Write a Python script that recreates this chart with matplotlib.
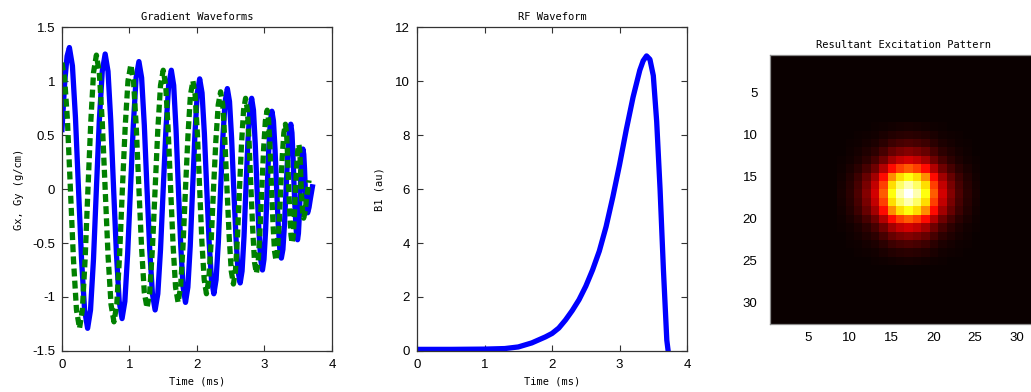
"""Spiral excitation pulse: gradient waveforms, RF waveform and excitation pattern."""

import matplotlib

matplotlib.use("Agg")
import matplotlib.pyplot as plt
import numpy as np

# gradient waveforms (ms, g/cm)
gx_time = [0.0, 0.042, 0.076, 0.11,
           0.155, 0.20, 0.245, 0.29, 0.335, 0.38,
           0.423, 0.467, 0.51, 0.553, 0.597, 0.64,
           0.682, 0.723, 0.765, 0.807, 0.848, 0.89,
           0.932, 0.973, 1.015, 1.057, 1.098, 1.14,
           1.18, 1.22, 1.26, 1.30, 1.34, 1.38,
           1.42, 1.46, 1.50, 1.54, 1.58, 1.62,
           1.655, 1.69, 1.725, 1.76, 1.795, 1.83,
           1.865, 1.90, 1.935, 1.97, 2.005, 2.04,
           2.075, 2.11, 2.145, 2.18, 2.215, 2.25,
           2.283, 2.317, 2.35, 2.383, 2.417, 2.45,
           2.482, 2.513, 2.545, 2.577, 2.608, 2.64,
           2.668, 2.697, 2.725, 2.753, 2.782, 2.81,
           2.837, 2.863, 2.89, 2.917, 2.943, 2.97,
           2.993, 3.017, 3.04, 3.063, 3.087, 3.11,
           3.133, 3.157, 3.18, 3.203, 3.227, 3.25,
           3.273, 3.297, 3.32, 3.343, 3.367, 3.39,
           3.407, 3.423, 3.44, 3.457, 3.473, 3.49,
           3.503, 3.517, 3.53, 3.543, 3.557, 3.57,
           3.582, 3.593, 3.605, 3.617, 3.628, 3.64,
           3.66, 3.68, 3.71]
gx = [0.55, 1.0, 1.23, 1.31,
      1.14, 0.66, 0.0, -0.65, -1.12, -1.29,
      -1.12, -0.65, 0.0, 0.63, 1.09, 1.25,
      1.09, 0.63, 0.0, -0.60, -1.04, -1.20,
      -1.04, -0.60, 0.0, 0.59, 1.03, 1.18,
      1.03, 0.59, 0.0, -0.56, -0.97, -1.12,
      -0.97, -0.56, 0.0, 0.55, 0.96, 1.10,
      0.96, 0.55, 0.0, -0.53, -0.91, -1.05,
      -0.91, -0.53, 0.0, 0.51, 0.89, 1.02,
      0.89, 0.51, 0.0, -0.49, -0.84, -0.97,
      -0.84, -0.49, 0.0, 0.47, 0.81, 0.93,
      0.81, 0.47, 0.0, -0.44, -0.76, -0.87,
      -0.76, -0.44, 0.0, 0.42, 0.73, 0.84,
      0.73, 0.42, 0.0, -0.38, -0.65, -0.75,
      -0.65, -0.38, 0.0, 0.36, 0.63, 0.72,
      0.63, 0.36, 0.0, -0.32, -0.56, -0.64,
      -0.56, -0.32, 0.0, 0.30, 0.52, 0.60,
      0.52, 0.30, 0.0, -0.24, -0.41, -0.47,
      -0.41, -0.24, 0.0, 0.19, 0.32, 0.37,
      0.32, 0.19, 0.0, -0.11, -0.19, -0.22,
      -0.17, -0.09, 0.02]

gy_time = [0.0, 0.04, 0.08, 0.125, 0.17, 0.215, 0.26,
           0.302, 0.343, 0.385, 0.427, 0.468, 0.51,
           0.553, 0.597, 0.64, 0.683, 0.727, 0.77,
           0.812, 0.853, 0.895, 0.937, 0.978, 1.02,
           1.06, 1.10, 1.14, 1.18, 1.22, 1.26,
           1.30, 1.34, 1.38, 1.42, 1.46, 1.50,
           1.537, 1.573, 1.61, 1.647, 1.683, 1.72,
           1.757, 1.793, 1.83, 1.867, 1.903, 1.94,
           1.973, 2.007, 2.04, 2.073, 2.107, 2.14,
           2.175, 2.21, 2.245, 2.28, 2.315, 2.35,
           2.382, 2.413, 2.445, 2.477, 2.508, 2.54,
           2.57, 2.60, 2.63, 2.66, 2.69, 2.72,
           2.747, 2.773, 2.80, 2.827, 2.853, 2.88,
           2.907, 2.933, 2.96, 2.987, 3.013, 3.04,
           3.062, 3.083, 3.105, 3.127, 3.148, 3.17,
           3.193, 3.217, 3.24, 3.263, 3.287, 3.31,
           3.327, 3.343, 3.36, 3.377, 3.393, 3.41,
           3.427, 3.443, 3.46, 3.477, 3.493, 3.51,
           3.522, 3.533, 3.545, 3.557, 3.568, 3.58,
           3.60, 3.625, 3.66]
gy = [1.17, 1.02, 0.65, 0.0, -0.65, -1.12, -1.29,
      -1.12, -0.65, 0.0, 0.62, 1.08, 1.24,
      1.08, 0.62, 0.0, -0.62, -1.07, -1.23,
      -1.07, -0.62, 0.0, 0.58, 1.0, 1.15,
      1.0, 0.58, 0.0, -0.55, -0.96, -1.10,
      -0.96, -0.55, 0.0, 0.55, 0.96, 1.10,
      0.96, 0.55, 0.0, -0.53, -0.91, -1.05,
      -0.91, -0.53, 0.0, 0.50, 0.87, 1.00,
      0.87, 0.50, 0.0, -0.49, -0.84, -0.97,
      -0.84, -0.49, 0.0, 0.45, 0.78, 0.90,
      0.78, 0.45, 0.0, -0.44, -0.76, -0.88,
      -0.76, -0.44, 0.0, 0.42, 0.73, 0.84,
      0.73, 0.42, 0.0, -0.39, -0.68, -0.78,
      -0.68, -0.39, 0.0, 0.37, 0.63, 0.73,
      0.63, 0.37, 0.0, -0.33, -0.57, -0.66,
      -0.57, -0.33, 0.0, 0.30, 0.52, 0.60,
      0.52, 0.30, 0.0, -0.25, -0.43, -0.50,
      -0.43, -0.25, 0.0, 0.21, 0.36, 0.41,
      0.36, 0.21, 0.0, -0.14, -0.23, -0.27,
      -0.22, -0.08, 0.08]

# RF envelope (ms, au)
rf_time = [0.0, 0.5, 1.0, 1.3, 1.5, 1.7, 1.9, 2.0, 2.1, 2.2, 2.3, 2.4, 2.5,
           2.6, 2.7, 2.8, 2.9, 3.0, 3.1, 3.2, 3.3, 3.35, 3.4, 3.45, 3.5,
           3.55, 3.6, 3.65, 3.7, 3.72]
rf_b1 = [0.06, 0.06, 0.07, 0.09, 0.15, 0.30, 0.52, 0.65, 0.85, 1.15, 1.5, 1.9,
         2.4, 3.0, 3.7, 4.6, 5.7, 6.9, 8.2, 9.4, 10.4, 10.75, 10.93, 10.8, 10.2,
         8.5, 6.0, 3.0, 0.4, 0.0]

# excitation profile along one axis (pixels 1..32), pattern is its outer product
profile = [0, 0, 0, 0, 0, 0, 0, 0, 0.02, 0.05, 0.1, 0.18, 0.3, 0.5, 0.76, 0.92,
           1.0, 0.92, 0.76, 0.5, 0.3, 0.18, 0.1, 0.05, 0.02, 0, 0, 0, 0, 0, 0, 0]

MONO = "DejaVu Sans Mono"
SANS = "Liberation Sans"


def style_line_axes(ax):
    for sp in ax.spines.values():
        sp.set_color("0.2")
        sp.set_linewidth(0.9)
    ax.tick_params(direction="in", top=True, right=True, length=4, width=0.8,
                   color="0.2", labelsize=9.5, pad=6)
    ax.tick_params(axis="y", pad=5)
    for lab in ax.get_xticklabels() + ax.get_yticklabels():
        lab.set_family(SANS)


fig = plt.figure(figsize=(10.31, 3.92), dpi=100)

# gradients
ax1 = fig.add_axes([0.0601, 0.1046, 0.2619, 0.8265])
ax1.plot(gx_time, gx, color="#0000ff", lw=3.8, solid_joinstyle="round")
ax1.plot(gy_time, gy, color="#008000", lw=3.8, linestyle=(0, (1.5, 0.8)),
         dash_capstyle="butt")
ax1.set_xlim(0, 4)
ax1.set_ylim(-1.5, 1.5)
ax1.set_xticks([0, 1, 2, 3, 4])
ax1.set_yticks([-1.5, -1, -0.5, 0, 0.5, 1, 1.5])
ax1.set_yticklabels(["-1.5", "-1", "-0.5", "0", "0.5", "1", "1.5"])
style_line_axes(ax1)
ax1.set_title("Gradient Waveforms", family=MONO, fontsize=7.5, pad=5)
ax1.set_xlabel("Time (ms)", family=MONO, fontsize=7.5, labelpad=4)
ax1.set_ylabel("Gx, Gy (g/cm)", family=MONO, fontsize=7.5, labelpad=6)

# RF
ax2 = fig.add_axes([0.4045, 0.1046, 0.2619, 0.8265])
ax2.plot(rf_time, rf_b1, color="#0000ff", lw=3.8, solid_joinstyle="round")
ax2.set_xlim(0, 4)
ax2.set_ylim(0, 12)
ax2.set_xticks([0, 1, 2, 3, 4])
ax2.set_yticks([0, 2, 4, 6, 8, 10, 12])
style_line_axes(ax2)
ax2.set_title("RF Waveform", family=MONO, fontsize=7.5, pad=5)
ax2.set_xlabel("Time (ms)", family=MONO, fontsize=7.5, labelpad=4)
ax2.set_ylabel("B1 (au)", family=MONO, fontsize=7.5, labelpad=8)

# excitation pattern
p = np.asarray(profile, dtype=float)
pattern = np.outer(p, p)
ax3 = fig.add_axes([0.7468, 0.1735, 0.26, 0.686])
ax3.imshow(pattern, cmap="hot", vmin=0, vmax=1, interpolation="nearest",
           extent=(0.5, 32.5, 32.5, 0.5), aspect="auto")
ax3.set_xticks([5, 10, 15, 20, 25, 30])
ax3.set_yticks([5, 10, 15, 20, 25, 30])
for sp in ax3.spines.values():
    sp.set_color("0.55")
    sp.set_linewidth(0.9)
ax3.tick_params(length=0, labelsize=9.5)
ax3.tick_params(axis="x", pad=6)
ax3.tick_params(axis="y", pad=9)
for lab in ax3.get_xticklabels() + ax3.get_yticklabels():
    lab.set_family(SANS)
ax3.set_title("Resultant Excitation Pattern", family=MONO, fontsize=7.5, pad=5)

fig.savefig("out.png", dpi=100)
